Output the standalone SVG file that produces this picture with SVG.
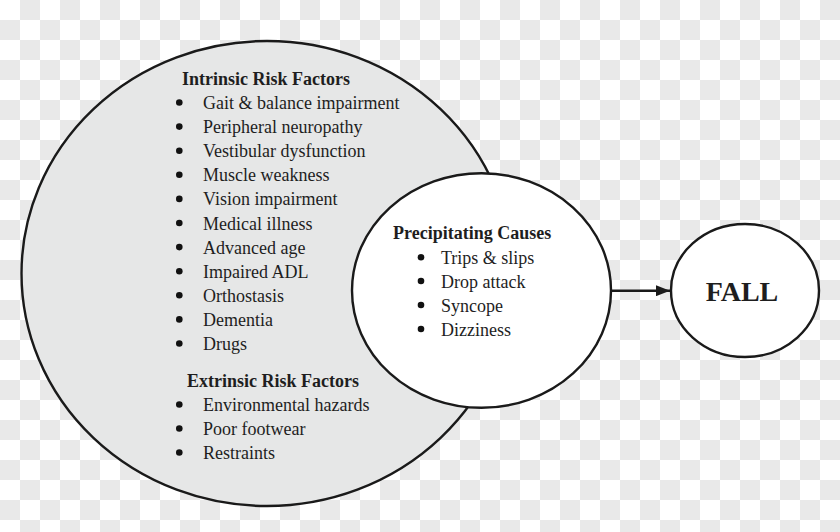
<svg xmlns="http://www.w3.org/2000/svg" width="840" height="532" viewBox="0 0 840 532">
  <defs>
    <pattern id="checker" x="0" y="0" width="40" height="40" patternUnits="userSpaceOnUse">
      <rect x="20" y="0" width="20" height="20" fill="#e9e9e9"/>
      <rect x="0" y="20" width="20" height="20" fill="#e9e9e9"/>
    </pattern>
    <marker id="arrow" viewBox="0 0 14 11" refX="14" refY="5.5" markerWidth="14" markerHeight="11" markerUnits="userSpaceOnUse" orient="auto">
      <path d="M0,0 L14,5.5 L0,11 Z" fill="#1a1a1a"/>
    </marker>
    <style>
      .shape { stroke: #1a1a1a; stroke-width: 2.4; }
      .t { font-family: "Liberation Serif", "Times New Roman", serif; font-size: 18px; fill: #1e1e1e; }
      .h { font-weight: bold; }
      .b { fill: #111; }
    </style>
  </defs>
  <rect x="0" y="0" width="840" height="532" style="fill:#ffffff"/>
  <rect x="0" y="0" width="840" height="532" style="fill:url(#checker)"/>

  <g id="risk-factors">
    <ellipse class="shape" cx="267" cy="273.5" rx="245.5" ry="232.5" fill="#e6e7e7"/>
    <text class="t h" x="182" y="85">Intrinsic Risk Factors</text>
    <g class="b">
      <circle cx="179.3" cy="102.5" r="3.3"/>
      <circle cx="179.3" cy="126.6" r="3.3"/>
      <circle cx="179.3" cy="150.7" r="3.3"/>
      <circle cx="179.3" cy="174.8" r="3.3"/>
      <circle cx="179.3" cy="198.9" r="3.3"/>
      <circle cx="179.3" cy="223" r="3.3"/>
      <circle cx="179.3" cy="247.1" r="3.3"/>
      <circle cx="179.3" cy="271.2" r="3.3"/>
      <circle cx="179.3" cy="295.3" r="3.3"/>
      <circle cx="179.3" cy="319.4" r="3.3"/>
      <circle cx="179.3" cy="343.5" r="3.3"/>
      <circle cx="179.3" cy="404.5" r="3.3"/>
      <circle cx="179.3" cy="428.5" r="3.3"/>
      <circle cx="179.3" cy="452.5" r="3.3"/>
    </g>
    <text class="t" x="203" y="109">Gait &amp; balance impairment</text>
    <text class="t" x="203" y="133.1">Peripheral neuropathy</text>
    <text class="t" x="203" y="157.2">Vestibular dysfunction</text>
    <text class="t" x="203" y="181.3">Muscle weakness</text>
    <text class="t" x="203" y="205.4">Vision impairment</text>
    <text class="t" x="203" y="229.5">Medical illness</text>
    <text class="t" x="203" y="253.6">Advanced age</text>
    <text class="t" x="203" y="277.7">Impaired ADL</text>
    <text class="t" x="203" y="301.8">Orthostasis</text>
    <text class="t" x="203" y="325.9">Dementia</text>
    <text class="t" x="203" y="350">Drugs</text>
    <text class="t h" x="187" y="387">Extrinsic Risk Factors</text>
    <text class="t" x="203" y="411">Environmental hazards</text>
    <text class="t" x="203" y="435">Poor footwear</text>
    <text class="t" x="203" y="459">Restraints</text>
  </g>

  <g id="precipitating-causes">
    <ellipse class="shape" cx="481.5" cy="290.5" rx="129.5" ry="117.3" fill="#ffffff"/>
    <text class="t h" x="393" y="238.7">Precipitating Causes</text>
    <g class="b">
      <circle cx="421" cy="257.3" r="3.3"/>
      <circle cx="421" cy="281" r="3.3"/>
      <circle cx="421" cy="305" r="3.3"/>
      <circle cx="421" cy="329" r="3.3"/>
    </g>
    <text class="t" x="441" y="264">Trips &amp; slips</text>
    <text class="t" x="441" y="287.5">Drop attack</text>
    <text class="t" x="441" y="311.5">Syncope</text>
    <text class="t" x="441" y="335.5">Dizziness</text>
  </g>

  <g id="fall">
    <ellipse class="shape" cx="745" cy="290.5" rx="74" ry="66.5" fill="#ffffff"/>
    <text class="t h" x="742" y="300.7" text-anchor="middle" style="font-size:28px">FALL</text>
  </g>

  <g id="connectors">
    <line x1="612" y1="290.7" x2="670" y2="290.7" stroke="#1a1a1a" stroke-width="2.6" marker-end="url(#arrow)"/>
  </g>
</svg>
